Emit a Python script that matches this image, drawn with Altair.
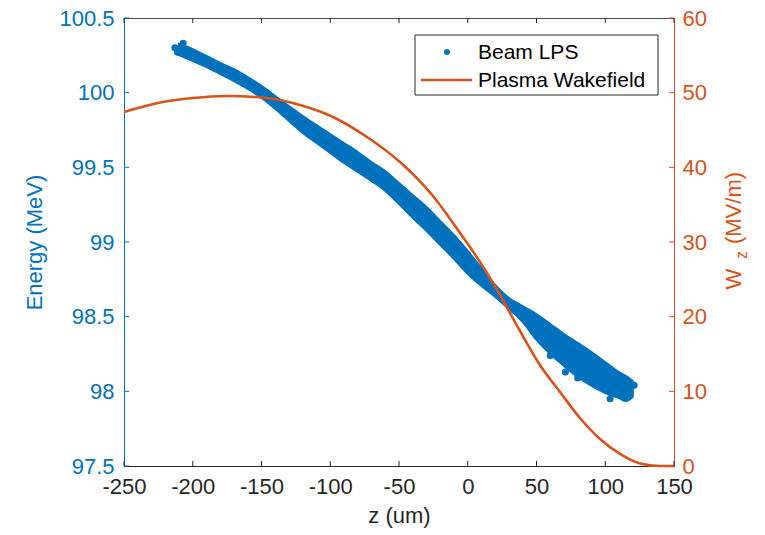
import altair as alt
import pandas as pd

BLUE = "#0072BD"
ORANGE = "#D95319"
DARK = "#262626"
FONT = "Liberation Sans"

# ---- data ----
z_band = [-210, -200, -190, -180, -170, -160, -150, -140, -130, -120, -110, -100,
          -90, -80, -70, -60, -50, -40, -30, -20, -10, 0, 10, 20, 30, 40, 50,
          60, 70, 80, 90, 100, 110, 115, 120]
e_upper = [100.326, 100.292, 100.246, 100.199, 100.158, 100.105, 100.045, 99.978,
           99.911, 99.844, 99.783, 99.723, 99.663, 99.603, 99.536, 99.475, 99.395,
           99.315, 99.234, 99.141, 99.047, 98.940, 98.826, 98.712, 98.625, 98.571,
           98.518, 98.451, 98.384, 98.324, 98.263, 98.196, 98.129, 98.103, 98.069]
e_lower = [100.252, 100.212, 100.172, 100.125, 100.078, 100.025, 99.964, 99.891,
           99.810, 99.730, 99.663, 99.596, 99.529, 99.469, 99.408, 99.342, 99.254,
           99.161, 99.074, 98.980, 98.886, 98.786, 98.705, 98.632, 98.551, 98.464,
           98.344, 98.250, 98.170, 98.096, 98.036, 97.989, 97.955, 97.935, 97.962]
# stray particles / rounded ends of the beam
out_z = [-86, 71, 89, 103.5, -213, -211, -207, 118, 121, 116, 60, 80]
out_e = [99.62, 98.13, 98.10, 97.95, 100.30, 100.27, 100.33, 97.99, 98.04, 97.96,
         98.24, 98.09]

wake_z = [-250, -225.3, -199.8, -175.1, -149.6, -122, -98, -73.3, -49.3, -25.3,
          -5.6, 8.9, 23.5, 38, 52.5, 67.1, 81.6, 96.2, 110.7, 125.3, 139.8, 150]
wake_w = [47.41, 48.61, 49.28, 49.55, 49.35, 48.35, 46.74, 44.06, 40.71, 36.16,
          31.20, 27.32, 22.90, 18.08, 13.53, 9.91, 6.43, 3.62, 1.61, 0.33, 0.0, 0.0]

x_ticks = [-250, -200, -150, -100, -50, 0, 50, 100, 150]
e_ticks = [97.5, 98, 98.5, 99, 99.5, 100, 100.5]
w_ticks = [0, 10, 20, 30, 40, 50, 60]

legend_labels = ["Beam LPS", "Plasma Wakefield"]

W, H = 550, 448

band_df = pd.DataFrame({"z": z_band, "up": e_upper, "lo": e_lower})
out_df = pd.DataFrame({"z": out_z, "e": out_e})
wake_df = pd.DataFrame({"z": wake_z, "w": wake_w})
xt_df = pd.DataFrame({"t": x_ticks})
et_df = pd.DataFrame({"t": e_ticks})
wt_df = pd.DataFrame({"t": w_ticks})

xscale = alt.Scale(domain=[-250, 150], nice=False, zero=False)
escale = alt.Scale(domain=[97.5, 100.5], nice=False, zero=False)
wscale = alt.Scale(domain=[0, 60], nice=False, zero=False)

xaxis = alt.Axis(values=x_ticks, labelExpr="'' + datum.value", tickSize=0, labelPadding=10,
                 labelColor=DARK, domainColor=DARK, titleColor=DARK, labelFont=FONT,
                 labelFontSize=22, titleFont=FONT, titleFontSize=22, titleFontWeight="normal",
                 titlePadding=8, grid=False, labelFlush=False)
eaxis = alt.Axis(values=e_ticks, labelExpr="'' + datum.value", tickSize=0, labelPadding=10,
                 labelColor=BLUE, domainColor=BLUE, titleColor=BLUE, labelFont=FONT,
                 labelFontSize=22, titleFont=FONT, titleFontSize=22, titleFontWeight="normal",
                 titlePadding=12, grid=False)
waxis = alt.Axis(values=w_ticks, orient="right", tickSize=0, labelPadding=8,
                 labelColor=ORANGE, domainColor=ORANGE, labelFont=FONT,
                 labelFontSize=22, grid=False, title=None)

X = alt.X("z:Q", scale=xscale, axis=xaxis, title="z (um)")

band = alt.Chart(band_df).mark_area(color=BLUE, stroke=BLUE, strokeWidth=2,
                                    interpolate="monotone", opacity=1).encode(
    x=X,
    y=alt.Y("up:Q", scale=escale, axis=eaxis, title="Energy (MeV)"),
    y2="lo:Q",
)
outs = alt.Chart(out_df).mark_circle(color=BLUE, size=50, opacity=1).encode(
    x=alt.X("z:Q", scale=xscale, axis=xaxis, title="z (um)"),
    y=alt.Y("e:Q", scale=escale, axis=eaxis, title="Energy (MeV)"),
)
eticks = alt.Chart(et_df).mark_rule(color=BLUE, strokeWidth=1).encode(
    x=alt.value(0), x2=alt.value(5),
    y=alt.Y("t:Q", scale=escale, axis=eaxis, title="Energy (MeV)"),
)
left = alt.layer(band, outs, eticks)

wake = alt.Chart(wake_df).mark_line(color=ORANGE, strokeWidth=2.6,
                                    interpolate="monotone").encode(
    x=alt.X("z:Q", scale=xscale, axis=xaxis, title="z (um)"),
    y=alt.Y("w:Q", scale=wscale, axis=waxis),
)
wticks = alt.Chart(wt_df).mark_rule(color=ORANGE, strokeWidth=1).encode(
    x=alt.value(W - 5), x2=alt.value(W),
    y=alt.Y("t:Q", scale=wscale, axis=waxis),
)
right = alt.layer(wake, wticks)

xt_bottom = alt.Chart(xt_df).mark_rule(color=DARK, strokeWidth=1).encode(
    x=alt.X("t:Q", scale=xscale, axis=xaxis, title="z (um)"),
    y=alt.value(H - 5), y2=alt.value(H),
)
xt_top = alt.Chart(xt_df).mark_rule(color=DARK, strokeWidth=1).encode(
    x=alt.X("t:Q", scale=xscale, axis=xaxis, title="z (um)"),
    y=alt.value(0), y2=alt.value(5),
)

# legend (manual, MATLAB style)
leg_df = pd.DataFrame({"label": legend_labels})
leg_box = alt.Chart(leg_df.head(1)).mark_rect(fill="white", stroke=DARK, strokeWidth=1).encode(
    x=alt.value(291), x2=alt.value(534), y=alt.value(17), y2=alt.value(77))
leg_dot = alt.Chart(leg_df.head(1)).mark_circle(color=BLUE, size=36, opacity=1).encode(
    x=alt.value(323), y=alt.value(34))
leg_line = alt.Chart(leg_df.head(1)).mark_rule(color=ORANGE, strokeWidth=2.6).encode(
    x=alt.value(297), x2=alt.value(348), y=alt.value(62))
leg_t1 = alt.Chart(leg_df.iloc[[0]]).mark_text(align="left", baseline="middle", font=FONT,
                                               fontSize=21, color="black").encode(
    x=alt.value(354), y=alt.value(35), text="label:N")
leg_t2 = alt.Chart(leg_df.iloc[[1]]).mark_text(align="left", baseline="middle", font=FONT,
                                               fontSize=21, color="black").encode(
    x=alt.value(354), y=alt.value(63), text="label:N")

# right axis title W_z (MV/m) with subscript
rt_df = pd.DataFrame({"a": ["W"], "b": ["z"], "c": ["(MV/m)"]})
rt_w = alt.Chart(rt_df).mark_text(angle=270, align="center", baseline="alphabetic",
                                  font=FONT, fontSize=22, color=ORANGE).encode(
    x=alt.value(617), y=alt.value(261), text="a:N")
rt_z = alt.Chart(rt_df).mark_text(angle=270, align="center", baseline="alphabetic",
                                  font=FONT, fontSize=16, color=ORANGE).encode(
    x=alt.value(623), y=alt.value(237), text="b:N")
rt_c = alt.Chart(rt_df).mark_text(angle=270, align="center", baseline="alphabetic",
                                  font=FONT, fontSize=22, color=ORANGE).encode(
    x=alt.value(617), y=alt.value(190), text="c:N")

chart = alt.layer(
    left, right, xt_bottom, xt_top,
    leg_box, leg_dot, leg_line, leg_t1, leg_t2,
    rt_w, rt_z, rt_c,
).resolve_scale(y="independent").properties(
    width=W, height=H,
    autosize=alt.AutoSizeParams(type="none"),
    padding={"left": 124, "top": 18, "right": 91, "bottom": 69},
    background="white",
).configure_view(stroke="#4a4a4a", strokeWidth=1)

chart.save("out.html", embed_options={"renderer": "svg", "actions": False})
